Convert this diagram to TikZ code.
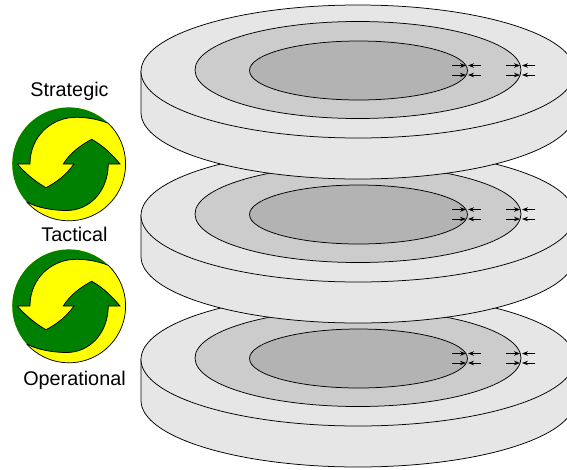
\documentclass[tikz,border=0pt]{standalone}
\usepackage{fontspec}
\setmainfont{Liberation Sans}
\usetikzlibrary{arrows.meta}
\definecolor{ringA}{HTML}{E6E6E6}
\definecolor{ringB}{HTML}{CCCCCC}
\definecolor{ringC}{HTML}{B3B3B3}
\definecolor{cycgreen}{HTML}{008000}
\definecolor{cycyellow}{HTML}{FFFF00}
\tikzset{
  edge/.style={draw=black,line width=0.75pt},
  tick/.style={draw=black,line width=0.8pt,-{Stealth[length=6pt,width=4.5pt]}},
  level/.style={font=\fontsize{19.8}{22}\selectfont,inner sep=0pt,text=black},
  pics/disk/.style={code={
    \path[edge,fill=ringA] (141,71.5) -- (141,112.5) arc[start angle=180,end angle=360,x radius=217pt,y radius=66.5pt] -- (575,71.5) -- cycle;
    \path[edge,fill=ringA] (358,71.5) ellipse[x radius=217pt,y radius=66.5pt];
    \path[edge,fill=ringB] (358,70) ellipse[x radius=163pt,y radius=48.5pt];
    \path[edge,fill=ringC] (358.5,70.5) ellipse[x radius=109pt,y radius=29.5pt];
    \foreach \yy in {65.5,75}{
      \foreach \xa/\xb/\xc/\xd in {452/466/481/468,506/520/535/522}{
        \draw[tick] (\xa,\yy) -- (\xb,\yy);
        \draw[tick] (\xc,\yy) -- (\xd,\yy);
      }
    }
  }},
  pics/cycle/.style={code={
    \fill[cycyellow] (0,0) circle[radius=56.7pt];
    \path[fill=cycgreen] (39.3,-40.7) arc[start angle=46,end angle=222,radius=56.7pt]
      .. controls (-32,44) and (-15,46.5) .. (-2.3,46.5)
      .. controls (20,46.5) and (39,28) .. (39.3,0)
      -- (51,0) .. controls (42,-11) and (33,-19) .. (22.7,-24.7)
      .. controls (12,-19) and (1,-11) .. (-5.7,0)
      -- (5,0) .. controls (-3,11) and (-12,18) .. (-23,23.7)
      .. controls (-33,18) and (-43,10) .. (-51.7,0)
      -- (-39,0) .. controls (-39,-28) and (-17,-47) .. (7.7,-46.7)
      .. controls (20,-46.6) and (31,-44) .. (39.3,-40.7);
    \path[edge] (-42.1,37.9) 
      .. controls (-32,44) and (-15,46.5) .. (-2.3,46.5)
      .. controls (20,46.5) and (39,28) .. (39.3,0)
      -- (51,0) .. controls (42,-11) and (33,-19) .. (22.7,-24.7)
      .. controls (12,-19) and (1,-11) .. (-5.7,0)
      -- (5,0) .. controls (-3,11) and (-12,18) .. (-23,23.7)
      .. controls (-33,18) and (-43,10) .. (-51.7,0)
      -- (-39,0) .. controls (-39,-28) and (-17,-47) .. (7.7,-46.7)
      .. controls (20,-46.6) and (31,-44) .. (39.3,-40.7);
    \path[edge] (39.3,-40.7) arc[start angle=46,end angle=-138,radius=56.7pt];
  }}
}
\begin{document}
\begin{tikzpicture}[x=1pt,y=-1pt]
  \useasboundingbox (0,0) rectangle (567,469);
  \clip (0,0) rectangle (567,469);
  \pic at (0,288) {disk};
  \pic at (0,144) {disk};
  \pic at (0,0) {disk};
  \pic at (69,164) {cycle};
  \pic at (69,306) {cycle};
  \node[level] (strategic) at (69.5,91.5) {Strategic};
  \node[level] (tactical) at (74.5,234) {Tactical};
  \node[level] (operational) at (74.5,380.5) {Operational};
\end{tikzpicture}
\end{document}
